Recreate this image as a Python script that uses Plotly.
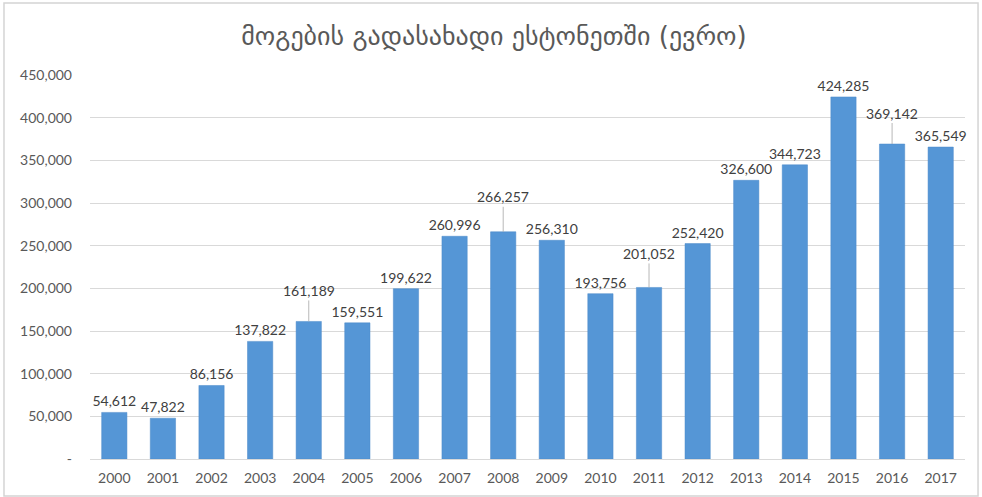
import plotly.graph_objects as go

years = ["2000", "2001", "2002", "2003", "2004", "2005", "2006", "2007", "2008",
         "2009", "2010", "2011", "2012", "2013", "2014", "2015", "2016", "2017"]
values = [54612, 47822, 86156, 137822, 161189, 159551, 199622, 260996, 266257,
          256310, 193756, 201052, 252420, 326600, 344723, 424285, 369142, 365549]
# labels drawn with a leader line (offset in pixels above the bar)
leader_years = ["2004", "2008", "2011", "2016"]
leader_offsets = [-31, -35, -34, -31]

y_ticks = [0, 50000, 100000, 150000, 200000, 250000, 300000, 350000, 400000, 450000]
y_ticktext = ["-"] + [f"{v:,}" for v in y_ticks[1:]]

title = "მოგების გადასახადი ესტონეთში (ევრო)"

bar_text = ["" if y in leader_years else f"{v:,}" for y, v in zip(years, values)]

label_font = dict(family="Lato, DejaVu Sans", size=14, color="#404040")

fig = go.Figure()
fig.add_trace(go.Bar(
    x=years, y=values,
    text=bar_text, textposition="outside", cliponaxis=False,
    constraintext="none",
    textfont=label_font,
    marker=dict(color="#5596D6", line=dict(color="#4A88C8", width=0.5)),
    hoverinfo="x+y",
))

for y, off in zip(leader_years, leader_offsets):
    i = years.index(y)
    v = values[i]
    fig.add_annotation(
        x=i, y=v, text=f"{v:,}", showarrow=True, arrowhead=0,
        arrowwidth=0.8, arrowcolor="#A6A6A6", ax=0, ay=off, standoff=0,
        font=label_font,
    )

fig.add_shape(type="rect", xref="paper", yref="paper",
              x0=-0.0983, x1=1.0149, y0=-0.0963, y1=1.1875,
              line=dict(color="#D4D4D4", width=1.5), layer="below")

fig.update_layout(
    width=982, height=497,
    margin=dict(l=90, r=17, t=75, b=38),
    paper_bgcolor="white", plot_bgcolor="white",
    bargap=0.48,
    showlegend=False,
    title=dict(text=title, x=494 / 982, xref="container", xanchor="center",
               y=1 - 36 / 497, yanchor="middle",
               font=dict(family="DejaVu Sans", size=26, color="#595959")),
    font=dict(family="Lato, DejaVu Sans", color="#595959"),
)
fig.update_xaxes(type="category", range=[-0.5, len(years) - 0.5], automargin=False,
                 showline=True, linecolor="#D9D9D9", linewidth=1,
                 ticks="", tickfont=dict(size=14, color="#595959"), ticklabelstandoff=6)
fig.update_yaxes(range=[0, 450000], tickvals=y_ticks, ticktext=y_ticktext, automargin=False,
                 showgrid=True, gridcolor="#D9D9D9", gridwidth=1,
                 zeroline=False, ticks="", ticklabelstandoff=17,
                 tickfont=dict(size=14, color="#595959"))

fig.write_html("out.html", config={"displayModeBar": False},
               post_script="document.body.style.margin='0';")
